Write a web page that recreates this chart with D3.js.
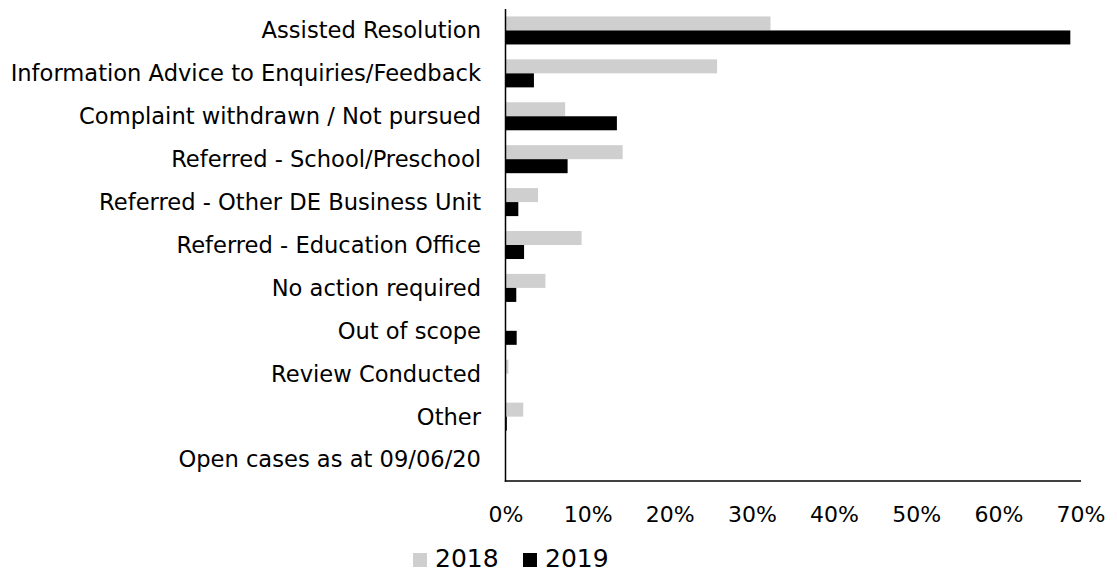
<!DOCTYPE html>
<html>
<head>
<meta charset="utf-8">
<script src="https://cdn.jsdelivr.net/npm/d3@7"></script>
<style>
  html, body { margin: 0; padding: 0; background: #fff; }
  svg { display: block; font-family: "DejaVu Sans", "Liberation Sans", Arial, sans-serif; }
</style>
</head>
<body>
<svg id="chart" width="1117" height="572"></svg>
<script>
// Outcome categories, top to bottom
const categories = [
  "Assisted Resolution",
  "Information Advice to Enquiries/Feedback",
  "Complaint withdrawn / Not pursued",
  "Referred - School/Preschool",
  "Referred - Other DE Business Unit",
  "Referred - Education Office",
  "No action required",
  "Out of scope",
  "Review Conducted",
  "Other",
  "Open cases as at 09/06/20"
];

// Share of cases (%) per year
const values2018 = [32.2, 25.7, 7.2, 14.2, 3.9, 9.2, 4.8, 0, 0.3, 2.1, 0];
const values2019 = [68.7, 3.4, 13.5, 7.5, 1.5, 2.2, 1.25, 1.3, 0, 0.1, 0];

const seriesNames = ["2018", "2019"];
const seriesColors = ["#d0cfcf", "#000000"];
const tickValues = [0, 10, 20, 30, 40, 50, 60, 70];

const svg = d3.select("#chart");

const plot = { left: 506, right: 1081, top: 9, bottom: 481 };

const x = d3.scaleLinear().domain([0, 70]).range([plot.left, plot.right]);
const y = d3.scaleBand().domain(categories).range([plot.top, plot.bottom])
  .paddingInner(0.347).paddingOuter(0.1735);
const ySub = d3.scaleBand().domain(seriesNames).range([0, y.bandwidth()]);

const rows = categories.map((c, i) => ({
  category: c,
  values: [
    { series: "2018", value: values2018[i] },
    { series: "2019", value: values2019[i] }
  ]
}));

// Bars
const groups = svg.append("g").selectAll("g")
  .data(rows).join("g")
  .attr("transform", d => `translate(0,${y(d.category)})`);

groups.selectAll("rect")
  .data(d => d.values).join("rect")
  .attr("x", x(0))
  .attr("y", d => ySub(d.series))
  .attr("width", d => x(d.value) - x(0))
  .attr("height", ySub.bandwidth())
  .attr("fill", d => seriesColors[seriesNames.indexOf(d.series)]);

// Category labels
svg.append("g").selectAll("text")
  .data(categories).join("text")
  .attr("x", 481)
  .attr("y", d => y(d) + y.bandwidth() / 2)
  .attr("dy", "0.35em")
  .attr("text-anchor", "end")
  .attr("font-size", 22.6)
  .attr("fill", "#000")
  .text(d => d);

// Axis lines
svg.append("line")
  .attr("x1", plot.left - 0.5).attr("x2", plot.left - 0.5)
  .attr("y1", plot.top).attr("y2", plot.bottom + 0.75)
  .attr("stroke", "#000").attr("stroke-width", 1.5);
svg.append("line")
  .attr("x1", plot.left - 1.25).attr("x2", plot.right)
  .attr("y1", plot.bottom).attr("y2", plot.bottom)
  .attr("stroke", "#000").attr("stroke-width", 1.5);

// X tick labels
svg.append("g").selectAll("text")
  .data(tickValues).join("text")
  .attr("x", d => x(d))
  .attr("y", 522)
  .attr("text-anchor", "middle")
  .attr("font-size", 22)
  .attr("fill", "#000")
  .text(d => d + "%");

// Legend
const legend = svg.append("g");
const legendItems = [
  { name: "2018", color: seriesColors[0], x: 413 },
  { name: "2019", color: seriesColors[1], x: 523 }
];
legendItems.forEach(item => {
  legend.append("rect")
    .attr("x", item.x).attr("y", 553)
    .attr("width", 14).attr("height", 14)
    .attr("fill", item.color);
  legend.append("text")
    .attr("x", item.x + 22).attr("y", 567)
    .attr("font-size", 25)
    .attr("fill", "#000")
    .text(item.name);
});
</script>
</body>
</html>
